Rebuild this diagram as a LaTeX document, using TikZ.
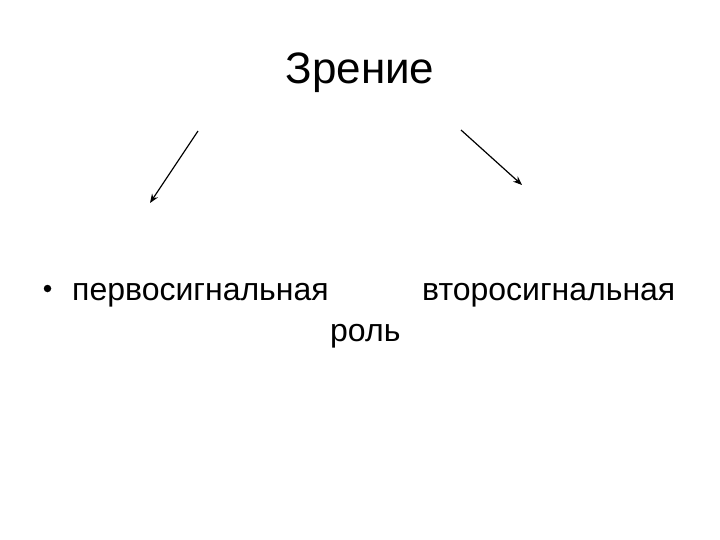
\documentclass[tikz,border=0pt]{standalone}
\usepackage{fontspec}
\setmainfont{Liberation Sans}
\usetikzlibrary{arrows.meta}
\tikzset{
  lbl/.style={inner sep=0pt, anchor=base west, font=\fontsize{32}{38}\selectfont},
  ttl/.style={inner sep=0pt, anchor=base, font=\fontsize{44}{52}\selectfont},
  bul/.style={circle, fill=black, inner sep=0pt, minimum size=7.5pt},
  arr/.style={-{Stealth[length=9pt,width=7pt]}, line width=1.2pt}
}
\begin{document}
\begin{tikzpicture}[x=1pt,y=-1pt]
\useasboundingbox (0,0) rectangle (720,540);
\node[ttl] (title) at (360,84) {Зрение};
\coordinate (a1s) at (198,131);
\coordinate (a1e) at (150,203);
\coordinate (a2s) at (461,130);
\coordinate (a2e) at (522,185);
\draw[arr] (a1s) -- (a1e);
\draw[arr] (a2s) -- (a2e);
\node[bul] (dot) at (47.5,288.5) {};
\node[lbl] (perv) at (72,300) {первосигнальная};
\node[lbl] (vtor) at (422,300) {второсигнальная};
\node[lbl] (rol) at (330,341) {роль};
\end{tikzpicture}
\end{document}
